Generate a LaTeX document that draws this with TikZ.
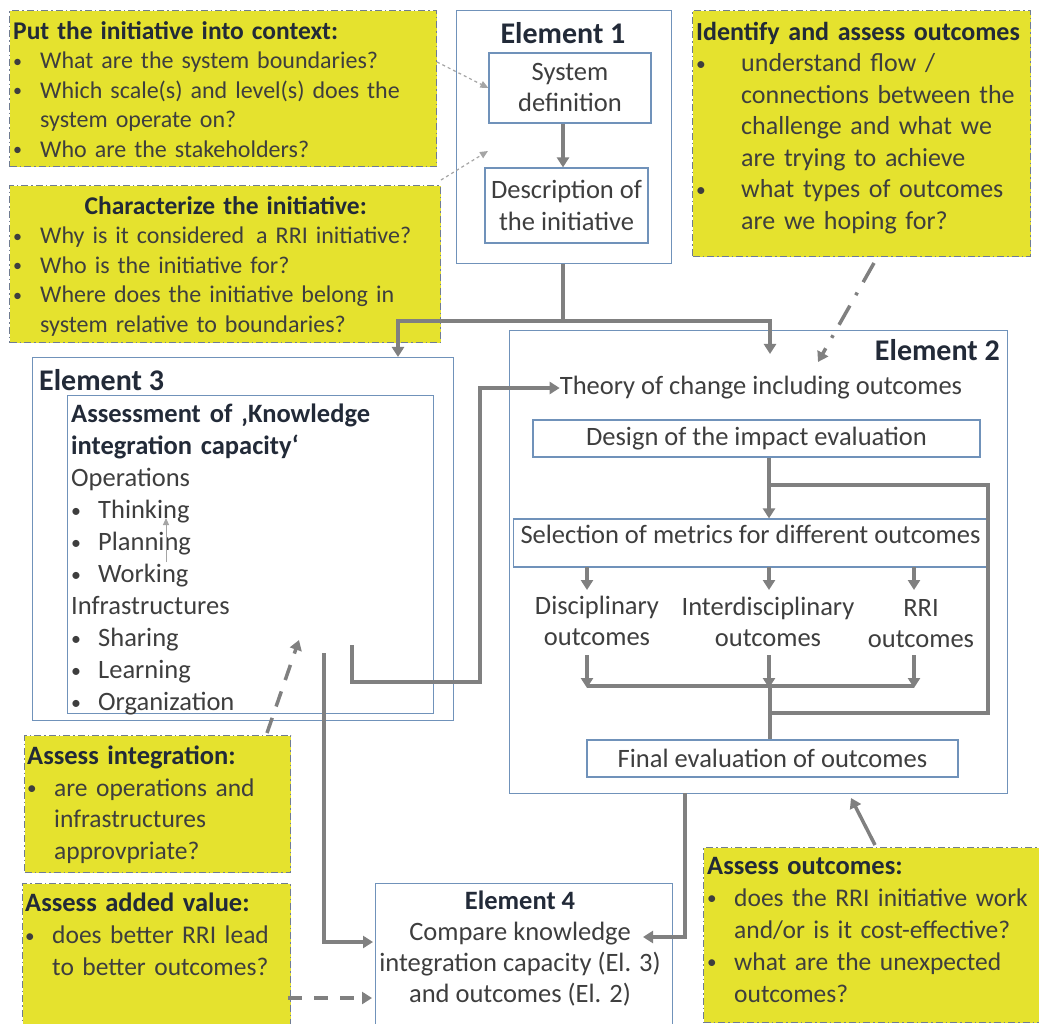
\documentclass[tikz,border=0pt]{standalone}
\usepackage{fontspec}
\usepackage{graphicx}
\setmainfont{Carlito}
\usetikzlibrary{arrows.meta}
\definecolor{ylw}{RGB}{229,226,46}
\definecolor{ydash}{RGB}{112,124,146}
\definecolor{bblue}{RGB}{112,146,186}
\definecolor{agrey}{RGB}{128,128,128}
\definecolor{lgrey}{RGB}{165,165,165}
\definecolor{txt}{RGB}{62,62,62}
\definecolor{head}{RGB}{34,42,56}
\hyphenpenalty=10000
\exhyphenpenalty=10000
\newcommand\mybul{\raisebox{0.12ex}{\scalebox{0.75}{\textbullet}}}
\newcommand\bitem[2]{\par\hangindent=#1\hangafter=1\noindent\makebox[#1][l]{\mybul}#2}
\newcommand\nl{\hfil\break}
\newcommand\hd[1]{{\bfseries\color{head}#1}}
\begin{document}
\begin{tikzpicture}[x=1pt,y=-1pt,
  ybox/.style={draw=ydash, fill=ylw, line width=1.3pt, dash pattern=on 7pt off 3pt on 1.5pt off 3pt, anchor=north west, inner sep=0pt},
  bbox/.style={draw=bblue, fill=white, line width=1.2pt, inner sep=0pt},
  ytext/.style={anchor=north west, align=left, text=txt, inner sep=0pt, font=\fontsize{24}{29.5}\selectfont},
  btext/.style={text=txt, align=center, inner sep=0pt, font=\fontsize{26.5}{31}\selectfont},
  etitle/.style={text=head, inner sep=0pt, font=\fontsize{30}{34}\selectfont\bfseries},
  tarrow/.style={draw=agrey, line width=3.5pt, -{Triangle[length=10pt,width=12pt]}},
  tline/.style={draw=agrey, line width=3.5pt},
  thinarrow/.style={draw=lgrey, line width=1.2pt, dashed, -{Triangle[length=8pt,width=7pt]}}
]
\useasboundingbox (0,0) rectangle (1039,1024);
\fill[white] (0,0) rectangle (1039,1024);

% ---- yellow boxes ----
\node[ybox, minimum width=427, minimum height=156] (ctx) at (9,10) {};
\node[ytext, text width=420] (ctxT) at (13,21) {{\fontsize{25.5}{29.5}\selectfont\hd{Put the initiative into context:}}
\bitem{27pt}{What are the system boundaries?}
\bitem{27pt}{Which scale(s) and level(s) does the\nl system operate on?}
\bitem{27pt}{Who are the stakeholders?}\par};

\node[ybox, minimum width=431, minimum height=157] (chr) at (9,185) {};
\node[ytext, text width=425] (chrT) at (13,196) {{\centering\fontsize{25.5}{29.5}\selectfont\hd{Characterize the initiative:}\par}
\bitem{27pt}{Why is it considered\, a RRI initiative?}
\bitem{27pt}{Who is the initiative for?}
\bitem{27pt}{Where does the initiative belong in\nl system relative to boundaries?}\par};

\node[ybox, minimum width=338, minimum height=246] (idf) at (692,10) {};
\node[ytext, text width=334, font=\fontsize{26}{31.5}\selectfont] (idfT) at (696,22) {\hd{Identify and assess outcomes}
\bitem{45pt}{understand flow /\nl connections between the\nl challenge and what we\nl are trying to achieve}
\bitem{45pt}{what types of outcomes\nl are we hoping for?}\par};

\node[ybox, minimum width=266, minimum height=137] (ain) at (24,735) {};
\node[ytext, text width=262, font=\fontsize{25.5}{31.5}\selectfont] (ainT) at (27,746) {{\fontsize{26.5}{31.5}\selectfont\hd{Assess integration:}}
\bitem{27pt}{are operations and\nl infrastructures\nl approvpriate?}\par};

\node[ybox, minimum width=268, minimum height=150] (aav) at (22,883) {};
\node[ytext, text width=264, font=\fontsize{25.5}{32}\selectfont] (aavT) at (25,893) {{\fontsize{26.5}{32}\selectfont\hd{Assess added value:}}
\bitem{27pt}{does better RRI lead\nl to better outcomes?}\par};

\node[ybox, minimum width=345, minimum height=175] (aou) at (703,847) {};
\node[ytext, text width=330, font=\fontsize{25.5}{32}\selectfont] (aouT) at (707,857) {{\fontsize{26.5}{32}\selectfont\hd{Assess outcomes:}}
\bitem{27pt}{does the RRI initiative work\nl and/or is it cost-effective?}
\bitem{27pt}{what are the unexpected\nl outcomes?}\par};

% ---- Element 1 ----
\node[bbox, anchor=north west, minimum width=215, minimum height=253] (e1) at (456,10) {};
\node[etitle] (e1t) at (563,33) {Element 1};
\node[bbox, btext, minimum width=162, minimum height=70] (sys) at (570,88) {System\\definition};
\node[bbox, btext, minimum width=163, minimum height=75, font=\fontsize{26.5}{32}\selectfont] (desc) at (566.5,205.5) {Description of\\the initiative};

% ---- Element 2 ----
\node[bbox, anchor=north west, minimum width=498, minimum height=463] (e2) at (509,330) {};
\node[etitle, anchor=north east] (e2t) at (1000,339) {Element 2};
\node[btext] (toc) at (761,388) {Theory of change including outcomes};
\node[bbox, btext, minimum width=447, minimum height=37] (des) at (756.5,438.5) {Design of the impact evaluation};
\node[bbox, btext, minimum width=474, minimum height=48] (sel) at (750.5,543) {Selection of metrics for different outcomes\\[-14pt]\mbox{}};
\node[btext] (disc) at (597,621) {Disciplinary\\outcomes};
\node[btext] (inter) at (768,622) {Interdisciplinary\\outcomes};
\node[btext] (rri) at (921,624) {RRI\\outcomes};
\node[bbox, btext, minimum width=371, minimum height=37] (fin) at (772.5,758.5) {Final evaluation of outcomes};

% ---- Element 3 ----
\node[bbox, anchor=north west, minimum width=421, minimum height=363] (e3) at (32,357) {};
\node[etitle, anchor=west] (e3t) at (39,380) {Element 3};
\node[bbox, anchor=north west, minimum width=366, minimum height=318] (e3i) at (67,395) {};
\node[ytext, text width=358, font=\fontsize{26.5}{32}\selectfont] (e3T) at (71,404) {\hd{Assessment of ‚Knowledge\nl integration capacity‘}\par
Operations
\bitem{27pt}{Thinking}
\bitem{27pt}{Planning}
\bitem{27pt}{Working}\par
Infrastructures
\bitem{27pt}{Sharing}
\bitem{27pt}{Learning}
\bitem{27pt}{Organization}\par};

% ---- Element 4 ----
\node[bbox, anchor=north west, minimum width=297, minimum height=160] (e4) at (375,883) {};
\node[btext, anchor=north, font=\fontsize{26.5}{31}\selectfont] (e4T) at (520,891) {\hd{Element 4}\\Compare knowledge\\integration capacity (El. 3)\\and outcomes (El. 2)};

% ---- coordinates ----
\coordinate (j1) at (563,321);
\coordinate (e3in) at (398,357);
\coordinate (e2in) at (770,354);
\coordinate (idfa) at (874,263);
\coordinate (idfb) at (818,362);
\coordinate (br1) at (769,485);
\coordinate (br2) at (988,713);
\coordinate (mrg) at (770,686);
\coordinate (s1) at (587,567);
\coordinate (s2) at (769,567);
\coordinate (s3) at (914,567);
\coordinate (o1) at (587,655);
\coordinate (o2) at (769,655);
\coordinate (o3) at (914,655);
\coordinate (k1) at (324,653);
\coordinate (k2) at (352,645);
\coordinate (k2c) at (480,682);
\coordinate (e4in) at (373,942);
\coordinate (e2out) at (685,793);
\coordinate (e4in2) at (643,937);
\coordinate (aoua) at (875,845);
\coordinate (aoub) at (851,798);
\coordinate (aina) at (267,733);
\coordinate (ainb) at (299,640);
\coordinate (aava) at (288,998);
\coordinate (aavb) at (372,998);
\coordinate (ctxa) at (437,62);
\coordinate (chra) at (441,180);
\coordinate (chrb) at (488,151);
\coordinate (thA) at (166,562);
\coordinate (thB) at (166,518);

% ---- connectors ----
\draw[tarrow] (sys.south -| j1) -- (desc.north -| j1);
\draw[tline] (e1.south -| j1) -- (j1);
\draw[tarrow] (j1) -| (e3in);
\draw[tarrow] (j1) -| (e2in);
\draw[draw=agrey, line width=3.5pt, dash pattern=on 22pt off 12pt on 3pt off 12pt, -{Triangle[length=10pt,width=12pt]}] (idfa) -- (idfb);

\draw[tarrow] (des.south -| br1) -- (sel.north -| br1);
\draw[tline] (br1) -| (br2) -- (br2 -| mrg);
\draw[tarrow] (s1) -- ++(0,23);
\draw[tarrow] (s2) -- ++(0,23);
\draw[tarrow] (s3) -- ++(0,23);
\draw[tarrow] (o1) -- ++(0,33);
\draw[tarrow] (o2) -- ++(0,33);
\draw[tarrow] (o3) -- ++(0,33);
\draw[tline] (o1 |- mrg) -- (o3 |- mrg);
\draw[tline] (mrg) -- (fin.north -| mrg);

\draw[tarrow] (k1) |- (e4in);
\draw[tarrow] (k2) |- (k2c) |- (toc.west);
\draw[tarrow] (e2out) |- (e4in2);
\draw[tarrow] (aoua) -- (aoub);
\draw[draw=agrey, line width=3.5pt, dash pattern=on 16pt off 12pt, -{Triangle[length=10pt,width=12pt]}] (aina) -- (ainb);
\draw[draw=agrey, line width=3.5pt, dash pattern=on 14pt off 12pt, -{Triangle[length=10pt,width=12pt]}] (aava) -- (aavb);

\draw[thinarrow] (ctxa) -- (sys.west);
\draw[thinarrow] (chra) -- (chrb);
\draw[draw=lgrey, line width=1pt, -{Triangle[length=7pt,width=6pt]}] (thA) -- (thB);
\end{tikzpicture}
\end{document}
